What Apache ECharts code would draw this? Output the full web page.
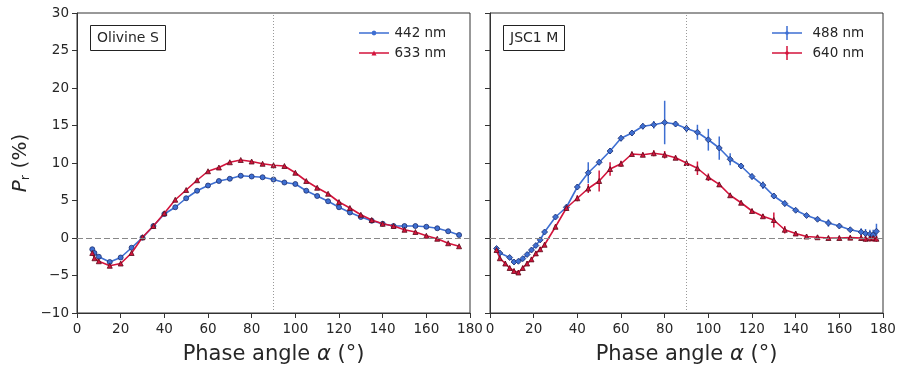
<!DOCTYPE html>
<html>
<head>
<meta charset="utf-8">
<script src="https://cdn.jsdelivr.net/npm/echarts@6/dist/echarts.min.js"></script>
<style>html,body{margin:0;padding:0;background:#fff}#c{width:901px;height:369px}</style>
</head>
<body>
<div id="c"></div>
<script>
// ---- Data ----
const panelTitles = ['Olivine S', 'JSC1 M'];
const xTicks = [0, 20, 40, 60, 80, 100, 120, 140, 160, 180];
const yTicks = [-10, -5, 0, 5, 10, 15, 20, 25, 30];

// Left panel: Olivine S
const olivineAngles = [7, 8, 10, 15, 20, 25, 30, 35, 40, 45, 50, 55, 60, 65, 70, 75, 80, 85, 90, 95, 100, 105, 110, 115, 120, 125, 130, 135, 140, 145, 150, 155, 160, 165, 170, 175];
const olivine442 = [-1.5, -2.0, -2.5, -3.2, -2.6, -1.3, 0.05, 1.6, 3.2, 4.1, 5.3, 6.3, 7.0, 7.6, 7.9, 8.3, 8.2, 8.1, 7.8, 7.4, 7.2, 6.3, 5.6, 4.9, 4.1, 3.4, 2.8, 2.3, 1.9, 1.6, 1.6, 1.6, 1.5, 1.3, 0.9, 0.4];
const olivine633 = [-2.0, -2.7, -3.1, -3.7, -3.4, -2.0, 0.1, 1.6, 3.3, 5.1, 6.4, 7.7, 8.9, 9.4, 10.1, 10.4, 10.2, 9.9, 9.7, 9.6, 8.7, 7.6, 6.7, 5.9, 4.8, 4.0, 3.1, 2.4, 1.9, 1.6, 1.1, 0.8, 0.3, -0.1, -0.7, -1.1];

// Right panel: JSC1 M
const jscAngles488 = [3, 4.5, 9, 11, 13, 15, 17, 19, 21, 23, 25, 30, 35, 40, 45, 50, 55, 60, 65, 70, 75, 80, 85, 90, 95, 100, 105, 110, 115, 120, 125, 130, 135, 140, 145, 150, 155, 160, 165, 170, 172, 174, 175.5, 177];
const jsc488 = [-1.4, -2.0, -2.6, -3.2, -3.1, -2.75, -2.2, -1.6, -1.0, -0.25, 0.8, 2.8, 4.1, 6.8, 8.7, 10.1, 11.6, 13.3, 14.0, 14.9, 15.1, 15.4, 15.2, 14.6, 14.1, 13.1, 12.0, 10.5, 9.6, 8.2, 7.05, 5.6, 4.6, 3.7, 3.0, 2.5, 2.0, 1.6, 1.1, 0.8, 0.6, 0.5, 0.4, 0.9];
const jsc488Err = [0.3, 0.3, 0.3, 0.3, 0.3, 0.3, 0.3, 0.3, 0.3, 0.3, 0.3, 0.3, 0.4, 0.4, 1.4, 0.4, 0.4, 0.4, 0.4, 0.4, 0.5, 2.9, 0.4, 0.5, 1.0, 1.45, 1.55, 0.8, 0.4, 0.4, 0.5, 0.4, 0.4, 0.3, 0.3, 0.3, 0.5, 0.3, 0.3, 0.5, 0.6, 0.6, 0.7, 1.0];
const jscAngles640 = [3, 4.5, 7, 9, 11, 13, 15, 17, 19, 21, 23, 25, 30, 35, 40, 45, 50, 55, 60, 65, 70, 75, 80, 85, 90, 95, 100, 105, 110, 115, 120, 125, 130, 135, 140, 145, 150, 155, 160, 165, 170, 172, 174, 175.5, 177];
const jsc640 = [-1.6, -2.7, -3.4, -4.0, -4.4, -4.6, -4.0, -3.4, -2.85, -2.05, -1.5, -0.9, 1.5, 4.0, 5.3, 6.6, 7.6, 9.2, 9.9, 11.2, 11.1, 11.3, 11.1, 10.7, 10.0, 9.3, 8.1, 7.15, 5.7, 4.7, 3.6, 2.9, 2.4, 1.1, 0.6, 0.2, 0.1, 0.0, 0.0, 0.05, 0.0, -0.1, -0.05, 0.0, -0.1];
const jsc640Err = [0.3, 0.3, 0.3, 0.3, 0.3, 0.3, 0.3, 0.3, 0.3, 0.3, 0.3, 0.3, 0.3, 0.4, 0.4, 0.6, 1.4, 0.9, 0.4, 0.3, 0.3, 0.4, 0.5, 0.3, 0.3, 0.9, 0.5, 0.3, 0.3, 0.3, 0.3, 0.3, 1.0, 0.5, 0.3, 0.3, 0.3, 0.3, 0.3, 0.3, 0.4, 0.4, 0.4, 0.5, 0.4];

// ---- Styles ----
const BLUE = '#3e6fd2', BLUE_EDGE = '#1d2e6e';
const RED = '#d3143c', RED_EDGE = '#5c0b1c';
const FONT = 'DejaVu Sans';
const AX = '#333';
const TXT = '#262626';

function pairs(xs, ys) { return xs.map((x, i) => [x, ys[i]]); }
function errTriples(xs, ys, es) { return xs.map((x, i) => [x, ys[i], es[i]]); }

function errRender(color) {
  return function (params, api) {
    const x = api.value(0), y = api.value(1), e = api.value(2);
    const p1 = api.coord([x, y - e]);
    const p2 = api.coord([x, y + e]);
    return { type: 'line', shape: { x1: p1[0], y1: p1[1], x2: p2[0], y2: p2[1] }, style: { stroke: color, lineWidth: 1.5 } };
  };
}

function xAxis(gi) {
  return {
    type: 'value', gridIndex: gi, min: 0, max: 180, interval: 20,
    name: '{t|Phase angle }{i|α}{t| (°)}', nameLocation: 'middle', nameGap: 31,
    nameTextStyle: { rich: { t: { fontFamily: FONT, fontSize: 21, color: TXT }, i: { fontFamily: FONT, fontSize: 21, fontStyle: 'italic', color: TXT } } },
    axisLine: { show: true, onZero: false, lineStyle: { color: AX, width: 1 } },
    axisTick: { show: true, inside: false, length: 5, lineStyle: { color: AX } },
    axisLabel: { fontFamily: FONT, fontSize: 13.5, color: TXT, margin: 9 },
    splitLine: { show: false }
  };
}
function yAxis(gi, showLabels) {
  const a = {
    type: 'value', gridIndex: gi, min: -10, max: 30, interval: 5,
    axisLine: { show: true, onZero: false, lineStyle: { color: AX, width: 1 } },
    axisTick: { show: true, inside: false, length: 5, lineStyle: { color: AX } },
    axisLabel: { show: showLabels, fontFamily: FONT, fontSize: 13.5, color: TXT, margin: 8,
      formatter: v => (v < 0 ? '\u2212' + Math.abs(v) : '' + v) },
    splitLine: { show: false }
  };
  if (showLabels) {
    a.name = '{i|P}{s|r}{t| (%)}';
    a.nameLocation = 'middle';
    a.nameGap = 45;
    a.nameTextStyle = { rich: {
      i: { fontFamily: FONT, fontSize: 20, fontStyle: 'italic', color: TXT },
      s: { fontFamily: FONT, fontSize: 13, color: TXT, padding: [9, 0, 0, 0] },
      t: { fontFamily: FONT, fontSize: 20, color: TXT } } };
  }
  return a;
}

const refLines = {
  silent: true, symbol: 'none', label: { show: false },
  data: [
    { yAxis: 0, lineStyle: { type: [6, 3], color: '#888', width: 1 } },
    { xAxis: 90, lineStyle: { type: [1, 2], color: '#999', width: 1 } }
  ]
};

// legend handle shapes (line + marker, or line + error bar + marker)
const circIcon = 'path://M0,4.3h30v1.4h-30z M15,2.5l1.77,0.73l0.73,1.77l-0.73,1.77l-1.77,0.73l-1.77,-0.73l-0.73,-1.77l0.73,-1.77z';
const triIcon = 'path://M0,4.3h30v1.4h-30z M15,2.5l2.5,5h-5z';
const errIcon = 'path://M0,6.25h30v1.5h-30z M14.25,0h1.5v14h-1.5z M15,4.5l2.5,2.5l-2.5,2.5l-2.5,-2.5z';

const option = {
  animation: false,
  backgroundColor: '#fff',
  title: panelTitles.map((t, i) => ({
    text: t, left: i === 0 ? 90 : 503, top: 25,
    borderColor: '#222', borderWidth: 1, padding: [6, 7, 6, 7],
    textStyle: { fontFamily: FONT, fontSize: 14, fontWeight: 'normal', color: TXT }
  })),
  grid: [
    { left: 77, right: 431, top: 13, bottom: 56, outerBoundsMode: 'none', containLabel: false, show: true, borderColor: AX, borderWidth: 1, backgroundColor: 'transparent' },
    { left: 490, right: 18, top: 13, bottom: 56, outerBoundsMode: 'none', containLabel: false, show: true, borderColor: AX, borderWidth: 1, backgroundColor: 'transparent' }
  ],
  legend: [
    { orient: 'vertical', left: 359, top: 26, padding: 0, itemWidth: 31, itemHeight: 5, itemGap: 6,
      itemStyle: { borderWidth: 0 },
      textStyle: { fontFamily: FONT, fontSize: 13.5, color: TXT },
      data: [{ name: '442 nm', icon: circIcon, itemStyle: { color: BLUE } },
             { name: '633 nm', icon: triIcon, itemStyle: { color: RED } }] },
    { orient: 'vertical', left: 772, top: 26, padding: 0, itemWidth: 31, itemHeight: 14, itemGap: 6,
      itemStyle: { borderWidth: 0 },
      textStyle: { fontFamily: FONT, fontSize: 13.5, color: TXT, padding: [0, 0, 0, 5] },
      data: [{ name: '488 nm', icon: errIcon, itemStyle: { color: BLUE } },
             { name: '640 nm', icon: errIcon, itemStyle: { color: RED } }] }
  ],
  xAxis: [xAxis(0), xAxis(1)],
  yAxis: [yAxis(0, true), yAxis(1, false)],
  series: [
    { name: '442 nm', type: 'line', xAxisIndex: 0, yAxisIndex: 0, data: pairs(olivineAngles, olivine442),
      symbol: 'circle', symbolSize: 5, lineStyle: { color: BLUE, width: 1.6 },
      itemStyle: { color: BLUE, borderColor: BLUE_EDGE, borderWidth: 0.8 }, z: 3, markLine: refLines },
    { name: '633 nm', type: 'line', xAxisIndex: 0, yAxisIndex: 0, data: pairs(olivineAngles, olivine633),
      symbol: 'triangle', symbolSize: 5, lineStyle: { color: RED, width: 1.6 },
      itemStyle: { color: RED, borderColor: RED_EDGE, borderWidth: 0.8 }, z: 4 },
    { name: '488 err', type: 'custom', xAxisIndex: 1, yAxisIndex: 1, renderItem: errRender(BLUE),
      data: errTriples(jscAngles488, jsc488, jsc488Err), z: 2, silent: true },
    { name: '640 err', type: 'custom', xAxisIndex: 1, yAxisIndex: 1, renderItem: errRender(RED),
      data: errTriples(jscAngles640, jsc640, jsc640Err), z: 2, silent: true },
    { name: '488 nm', type: 'line', xAxisIndex: 1, yAxisIndex: 1, data: pairs(jscAngles488, jsc488),
      symbol: 'diamond', symbolSize: 6, lineStyle: { color: BLUE, width: 1.6 },
      itemStyle: { color: BLUE, borderColor: BLUE_EDGE, borderWidth: 0.8 }, z: 3, markLine: refLines },
    { name: '640 nm', type: 'line', xAxisIndex: 1, yAxisIndex: 1, data: pairs(jscAngles640, jsc640),
      symbol: 'triangle', symbolSize: 5, lineStyle: { color: RED, width: 1.6 },
      itemStyle: { color: RED, borderColor: RED_EDGE, borderWidth: 0.8 }, z: 4 }
  ]
};

const chart = echarts.init(document.getElementById('c'), null, { renderer: 'canvas' });
chart.setOption(option);
</script>
</body>
</html>
